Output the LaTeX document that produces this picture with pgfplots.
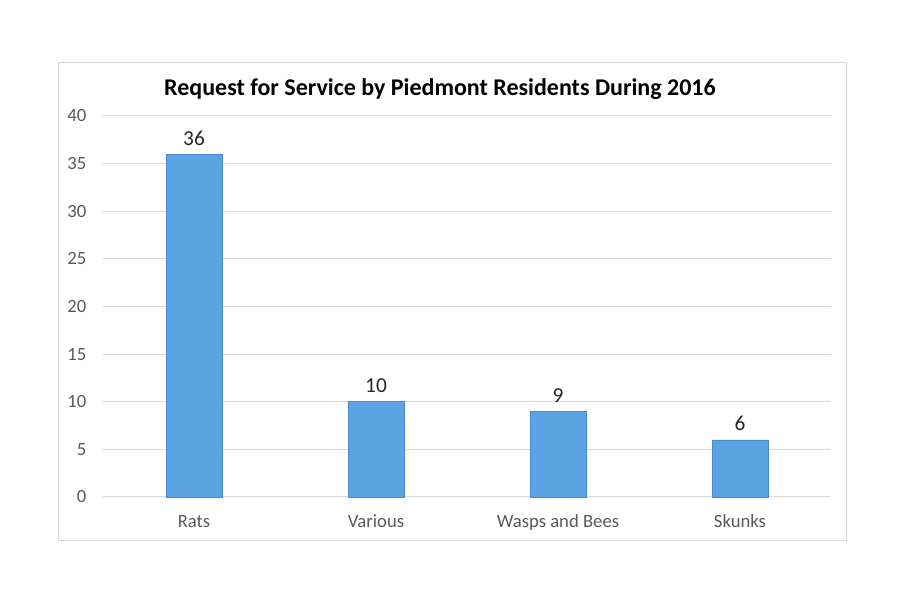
\documentclass[border=0pt]{standalone}
\usepackage{pgfplots}
\pgfplotsset{compat=1.18}
\usepackage{fontspec}
\setmainfont{Carlito}
\definecolor{barblue}{RGB}{91,163,226}
\definecolor{baredge}{RGB}{70,140,205}
\definecolor{gridgray}{RGB}{217,217,217}
\definecolor{ticktext}{RGB}{89,89,89}
\definecolor{labtext}{RGB}{38,38,38}
\begin{document}
\begin{tikzpicture}[x=0.75pt,y=0.75pt]
\path[fill=white] (0,0) rectangle (904,600);
\draw[gridgray,line width=0.75pt] (58,59) rectangle (846,537);
\node[font=\bfseries\fontsize{18}{21}\selectfont, text=black] at (440,511) {Request for Service by Piedmont Residents During 2016};
\begin{axis}[
  at={(77.25pt,77.25pt)}, anchor=south west,
  scale only axis, width=546pt, height=285.75pt,
  xmin=-0.5, xmax=3.5, ymin=0, ymax=40,
  ytick={0,5,...,40},
  xtick={0,1,2,3},
  xticklabels={Rats,Various,Wasps and Bees,Skunks},
  axis line style={draw=none},
  tick style={draw=none},
  ymajorgrids, grid style={gridgray, line width=0.75pt},
  ticklabel style={font=\fontsize{14}{16}\selectfont, text=ticktext},
  /pgf/number format/assume math mode=true,
  yticklabel style={xshift=-9pt},
  xticklabel style={yshift=-12pt, text height=1.55ex, text depth=0.45ex},
  clip=false,
]
\addplot[ybar, bar width=42pt, fill=barblue, draw=baredge,
  nodes near coords,
  nodes near coords style={font=\fontsize{16}{18}\selectfont, text=labtext, yshift=3pt},
] coordinates {(0,36) (1,10) (2,9) (3,6)};
\end{axis}
\end{tikzpicture}
\end{document}
